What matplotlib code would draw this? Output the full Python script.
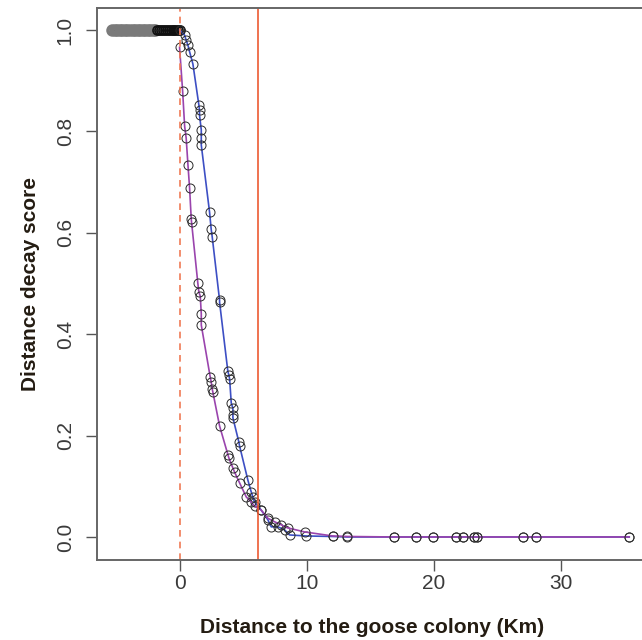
import numpy as np
import matplotlib
matplotlib.use("Agg")
from matplotlib import pyplot as plt

plt.rcParams['font.family'] = ['Liberation Sans', 'DejaVu Sans']

# sites inside the colony (negative distance) all score 1
inside_km = [-5.3, -5.1, -4.9, -4.7, -4.5, -4.3, -4.1, -3.9, -3.7, -3.5,
             -3.3, -3.1, -2.9, -2.7, -2.5, -2.3, -2.1, -1.9]
inside_dark_km = [-1.75, -1.6, -1.45, -1.3, -1.15, -1.0, -0.85, -0.7,
                  -0.55, -0.4, -0.25, -0.1, 0.0]

# fast decay (purple)
fast_km = [0.0, 0.24, 0.4, 0.52, 0.66, 0.79, 0.92, 0.94, 1.44, 1.52, 1.63,
           1.71, 1.71, 2.41, 2.49, 2.57, 2.62, 3.15, 3.81, 3.88, 4.2, 4.33,
           4.72, 5.25, 5.64, 5.9, 6.43, 6.95, 7.48, 8.0, 8.5, 9.84, 12.05,
           13.2, 16.9, 18.6, 19.95, 21.8, 22.3, 23.2, 23.4, 27.0, 28.1, 35.4]
fast_score = [0.966, 0.88, 0.81, 0.787, 0.734, 0.688, 0.627, 0.622, 0.50,
              0.483, 0.475, 0.44, 0.418, 0.316, 0.306, 0.292, 0.286, 0.219,
              0.162, 0.156, 0.136, 0.128, 0.107, 0.079, 0.069, 0.061, 0.053,
              0.037, 0.030, 0.024, 0.018, 0.010, 0.002, 0.001, 0.0, 0.0, 0.0,
              0.0, 0.0, 0.0, 0.0, 0.0, 0.0, 0.0]

# slow decay (blue)
slow_km = [0.0, 0.39, 0.52, 0.66, 0.79, 1.05, 1.52, 1.57, 1.57, 1.71, 1.71,
           1.71, 2.36, 2.49, 2.57, 3.15, 3.15, 3.8, 3.88, 3.94, 4.07, 4.2,
           4.2, 4.2, 4.67, 4.72, 5.38, 5.64, 5.77, 5.9, 6.43, 6.95, 7.22,
           7.74, 8.27, 8.66, 9.98, 12.05, 13.2, 16.9, 18.6, 19.95, 21.8,
           22.3, 23.2, 23.4, 27.0, 28.1, 35.4]
slow_score = [1.0, 0.99, 0.98, 0.97, 0.957, 0.933, 0.852, 0.842, 0.832,
              0.803, 0.787, 0.773, 0.641, 0.607, 0.592, 0.467, 0.463, 0.327,
              0.319, 0.312, 0.264, 0.254, 0.241, 0.235, 0.187, 0.180, 0.112,
              0.089, 0.079, 0.069, 0.053, 0.034, 0.020, 0.020, 0.014, 0.004,
              0.002, 0.001, 0.0, 0.0, 0.0, 0.0, 0.0, 0.0, 0.0, 0.0, 0.0, 0.0,
              0.0]

colony_edge = 0.0
buffer_km = 6.2

fig = plt.figure(figsize=(6.42, 6.40), dpi=100)
ax = fig.add_axes([97 / 642, 80 / 640, 550 / 642, 552 / 640])

mk = dict(marker='o', markersize=6.5, markerfacecolor='none',
          markeredgecolor='#2a2a2a', markeredgewidth=0.7)

ax.plot(inside_km + [0.0], [1.0] * (len(inside_km) + 1), color='#444444', lw=1)
ax.plot(inside_km, [1.0] * len(inside_km), linestyle='none',
        **dict(mk, markeredgecolor='#7a7a7a', markeredgewidth=2.5))
ax.plot(inside_dark_km, [1.0] * len(inside_dark_km), linestyle='none',
        **dict(mk, markeredgecolor='#111111', markeredgewidth=1.2))

ax.plot(slow_km, slow_score, color='#3d4fc4', lw=1.2, **mk)
ax.plot(fast_km, fast_score, color='#9a44ad', lw=1.2, **mk)

ax.axvline(colony_edge, color='#f07a55', lw=1.2, ls=(0, (4, 3)))
ax.axvline(buffer_km, color='#ec5a32', lw=1.2)

ax.set_xlim(-6.5, 36.8)
ax.set_ylim(-0.0454, 1.0434)

ax.set_xticks([0, 10, 20, 30])
ax.set_yticks([0.0, 0.2, 0.4, 0.6, 0.8, 1.0])
ax.set_yticklabels(['0.0', '0.2', '0.4', '0.6', '0.8', '1.0'],
                   rotation=90, va='center')
ax.tick_params(axis='both', direction='out', length=8, width=1,
               color='#555555', labelsize=15, labelcolor='#3a3a3a')
ax.tick_params(axis='x', pad=2)
ax.tick_params(axis='y', pad=8)

for side in ['left', 'bottom', 'top', 'right']:
    ax.spines[side].set_color('#666666')
    ax.spines[side].set_linewidth(1.4)

ax.set_xlabel('Distance to the goose colony (Km)', fontsize=15,
              fontweight='bold', color='#241c12', labelpad=18)
ax.set_ylabel('Distance decay score', fontsize=15, fontweight='bold',
              color='#241c12', labelpad=11)

fig.savefig('out.png', dpi=100, facecolor='white')
